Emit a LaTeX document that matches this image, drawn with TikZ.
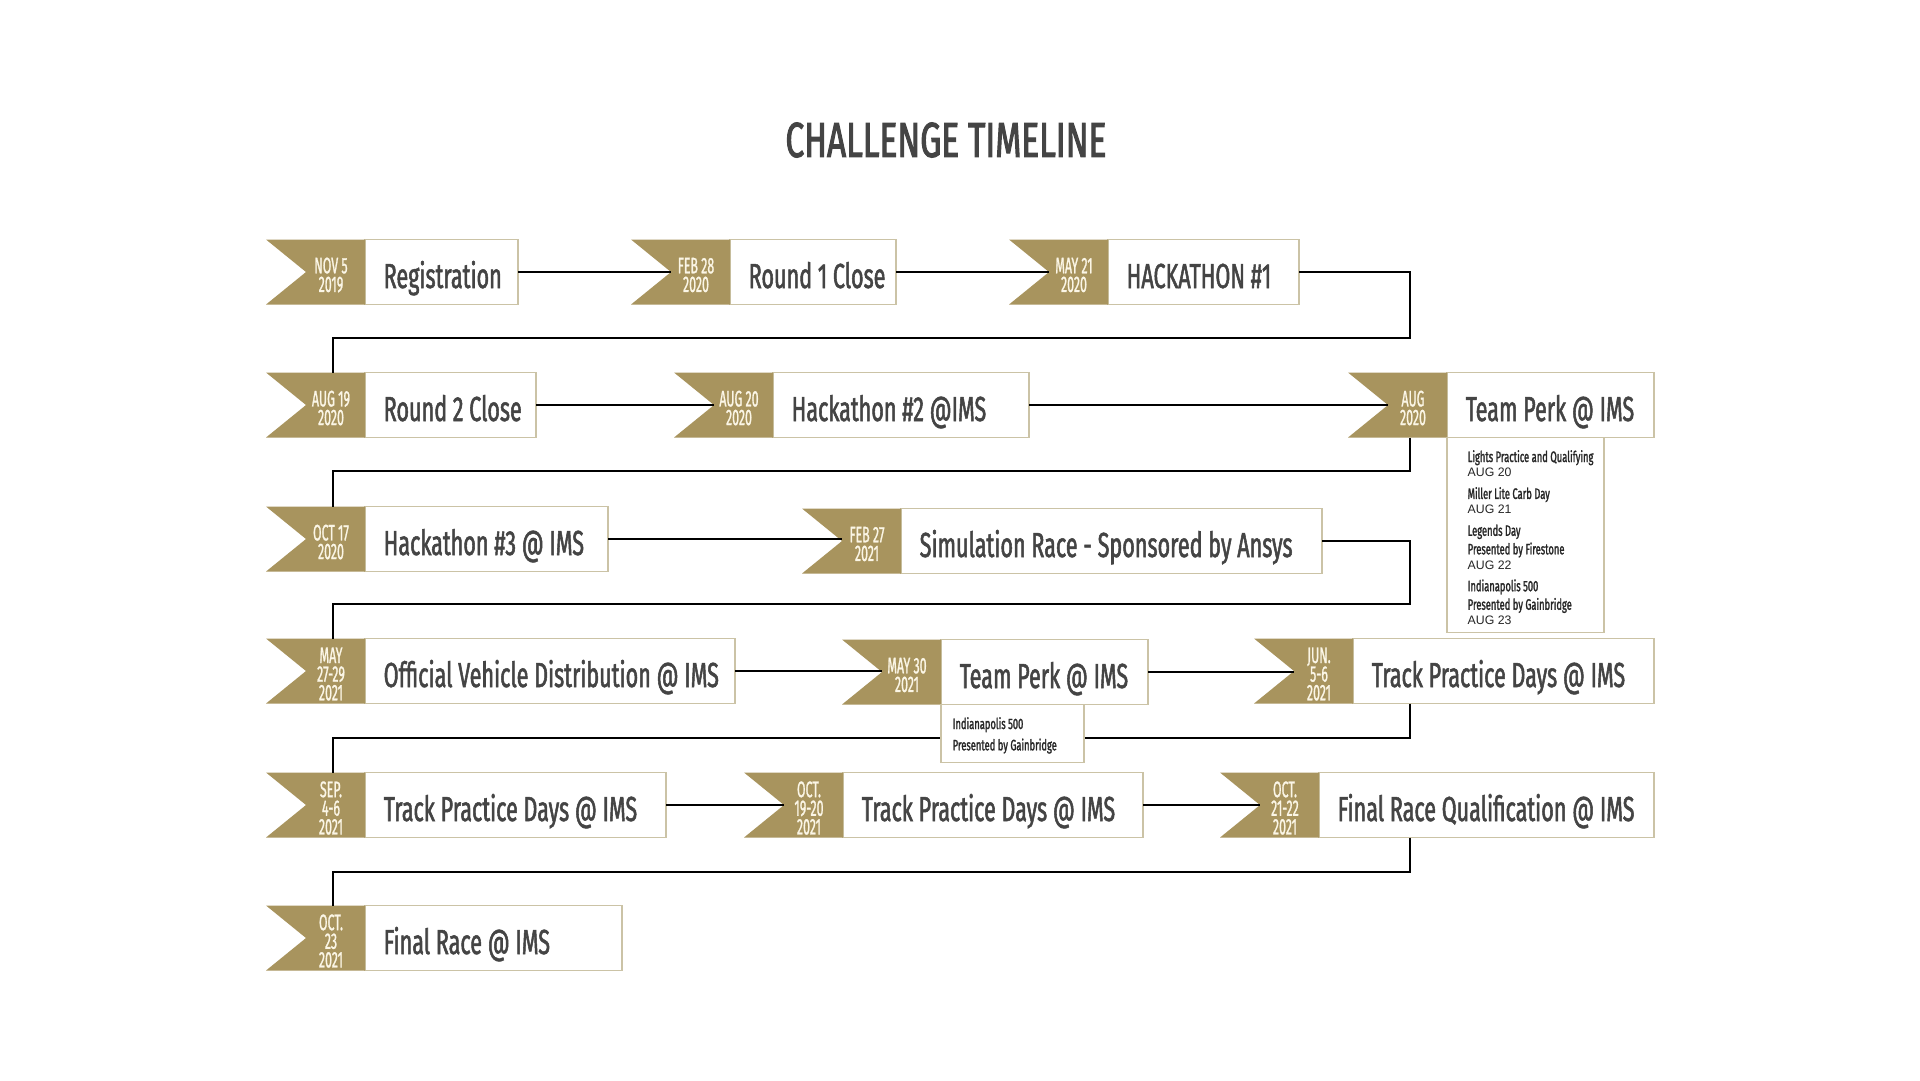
\documentclass[tikz,border=0pt]{standalone}
\usepackage{fontspec}
\newfontfamily\teko{Fira Sans}[FakeStretch=0.62, FakeBold=1.5]
\newfontfamily\tekot{Fira Sans}[FakeStretch=0.68, FakeBold=2]
\newfontfamily\tekoc{Fira Sans}[FakeStretch=0.55, FakeBold=1]
\newfontfamily\arial{Liberation Sans}

\definecolor{oro}{HTML}{A8945E}
\definecolor{borde}{HTML}{CBC3A6}
\definecolor{gristexto}{HTML}{444444}
\definecolor{crema}{HTML}{FBF6E6}

\newcommand{\notat}{\teko\fontsize{4.3}{4.2}\selectfont}
\newcommand{\notaa}{\arial\fontsize{3.5}{4.2}\selectfont}

\tikzset{
  caja/.style={draw=borde, line width=0.4pt, fill=white, anchor=west, inner sep=0pt, outer sep=0pt, minimum height=6.5mm},
  etiqueta/.style={anchor=base west, inner sep=0pt, text=gristexto, font=\teko\fontsize{9.9}{11}\selectfont},
  fecha/.style={align=center, inner sep=0pt, text=crema, font=\tekoc\fontsize{6.4}{5.3}\selectfont},
  linea/.style={draw=black, line width=0.55pt},
  nota/.style={draw=borde, line width=0.4pt, fill=white, anchor=north west, inner sep=0pt, outer sep=0pt},
  notatexto/.style={anchor=north west, align=left, inner sep=0pt, text=black!85, font=\notat},
}

% #1 nombre, #2 x, #3 y, #4 ancho, #5 fecha, #6 texto
\newcommand{\evento}[6]{%
  \node[caja, minimum width=#4] (#1) at (#2,#3) {};
  \fill[oro] (#1.north west) -- ++(-99,0) -- ++(40,32.5) -- ++(-40,32.5) -- (#1.south west) -- cycle;
  \node[fecha] (#1f) at ([shift={(-34,3)}] #1.west) {#5};
  \node[etiqueta] (#1t) at ([shift={(18,16)}] #1.west) {#6};
  \coordinate (#1n) at ([shift={(-59,0)}] #1.west);
}

\begin{document}
\begin{tikzpicture}[x=0.1mm, y=-0.1mm]
    \useasboundingbox (0,0) rectangle (1920,1080);

    % Titulo
    \node[font=\tekot\fontsize{14}{15}\selectfont, text=gristexto] (titulo) at (946,140) {CHALLENGE TIMELINE};

    % Fila 1
    \evento{e1}{365}{272}{15.3mm}{NOV 5\\2019}{Registration}
    \evento{e2}{730}{272}{16.6mm}{FEB 28\\2020}{Round 1 Close}
    \evento{e3}{1108}{272}{19.1mm}{MAY 21\\2020}{HACKATHON \#1}

    % Fila 2
    \evento{e4}{365}{405}{17.1mm}{AUG 19\\2020}{Round 2 Close}
    \evento{e5}{773}{405}{25.6mm}{AUG 20\\2020}{Hackathon \#2 @IMS}
    \evento{e6}{1447}{405}{20.7mm}{AUG\\2020}{Team Perk @ IMS}

    % Fila 3
    \evento{e7}{365}{539}{24.3mm}{OCT 17\\2020}{Hackathon \#3 @ IMS}
    \evento{e8}{901}{541}{42.1mm}{FEB 27\\2021}{Simulation Race - Sponsored by Ansys}

    % Fila 4
    \evento{e9}{365}{671}{37mm}{MAY\\27-29\\2021}{Official Vehicle Distribution @ IMS}
    \evento{e10}{941}{672}{20.7mm}{MAY 30\\2021}{Team Perk @ IMS}
    \evento{e11}{1353}{671}{30.1mm}{JUN.\\5-6\\2021}{Track Practice Days @ IMS}

    % Fila 5
    \evento{e12}{365}{805}{30.1mm}{SEP.\\4-6\\2021}{Track Practice Days @ IMS}
    \evento{e13}{843}{805}{30mm}{OCT.\\19-20\\2021}{Track Practice Days @ IMS}
    \evento{e14}{1319}{805}{33.5mm}{OCT.\\21-22\\2021}{Final Race Qualification @ IMS}

    % Fila 6
    \evento{e15}{365}{938}{25.7mm}{OCT.\\23\\2021}{Final Race @ IMS}

    % Giros
    \coordinate (g1) at (1410,338);  \coordinate (g2) at (333,338);
    \coordinate (g3) at (1410,471);  \coordinate (g4) at (333,471);
    \coordinate (g5) at (1410,604);  \coordinate (g6) at (333,604);
    \coordinate (g7) at (1410,738);  \coordinate (g8) at (333,738);
    \coordinate (g9) at (1410,872);  \coordinate (g10) at (333,872);

    % Conectores
    \draw[linea] (e1.east) -- (e2n);
    \draw[linea] (e2.east) -- (e3n);
    \draw[linea] (e3.east) -| (g1) -- (g2) -- (g2 |- e4.north);
    \draw[linea] (e4.east) -- (e5n);
    \draw[linea] (e5.east) -- (e6n);
    \draw[linea] (g3 |- e6.south) -- (g3) -- (g4) -- (g4 |- e7.north);
    \draw[linea] (e7.east) -- (e7.east -| e8n);
    \draw[linea] (e8.east) -| (g5) -- (g6) -- (g6 |- e9.north);
    \draw[linea] (e9.east) -- (e9.east -| e10n);
    \draw[linea] (e10.east) -- (e10.east -| e11n);
    \draw[linea] (g7 |- e11.south) -- (g7) -- (g8) -- (g8 |- e12.north);
    \draw[linea] (e12.east) -- (e13n);
    \draw[linea] (e13.east) -- (e14n);
    \draw[linea] (g9 |- e14.south) -- (g9) -- (g10) -- (g10 |- e15.north);

    % Notas
    \node[nota, minimum width=15.7mm, minimum height=19.5mm] (n6) at (e6.south west) {};
    \node[notatexto] (n6t) at ([shift={(20,12)}] n6.north west) {%
      Lights Practice and Qualifying\\
      {\notaa AUG 20}\\[2.1pt]
      Miller Lite Carb Day\\
      {\notaa AUG 21}\\[2.1pt]
      Legends Day\\
      Presented by Firestone\\
      {\notaa AUG 22}\\[2.1pt]
      Indianapolis 500\\
      Presented by Gainbridge\\
      {\notaa AUG 23}};
    \node[nota, minimum width=14.3mm, minimum height=5.8mm] (n10) at (e10.south west) {};
    \node[notatexto] (n10t) at ([shift={(11,12)}] n10.north west) {%
      Indianapolis 500\\[0.8pt]
      Presented by Gainbridge};
\end{tikzpicture}
\end{document}
